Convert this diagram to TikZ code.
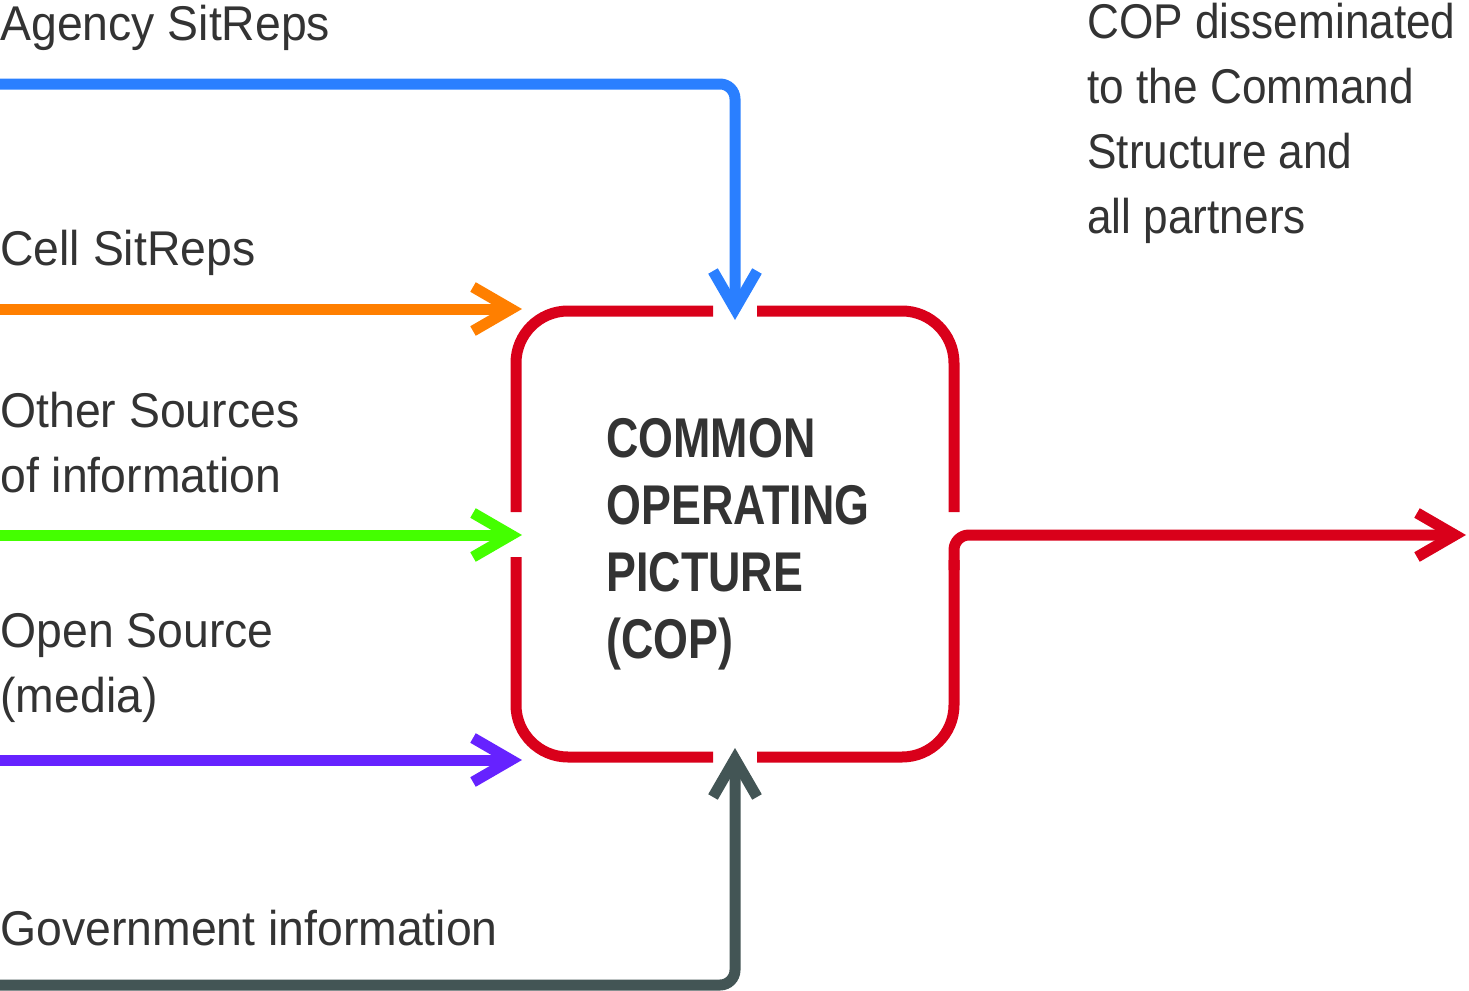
\documentclass[tikz,border=0pt]{standalone}
\usepackage{fontspec}
\setmainfont{Liberation Sans}
\newfontfamily\labelfont[FakeStretch=0.95]{Liberation Sans}
\newfontfamily\narrowfont[FakeStretch=0.905]{Liberation Sans}
\newfontfamily\copfont[FakeStretch=0.8]{Liberation Sans}
\usetikzlibrary{arrows.meta}
\definecolor{textgray}{HTML}{333333}
\definecolor{agencyblue}{HTML}{2A7FFF}
\definecolor{cellorange}{HTML}{FF7F00}
\definecolor{othergreen}{HTML}{44FF00}
\definecolor{openviolet}{HTML}{6622FF}
\definecolor{govgray}{HTML}{435555}
\definecolor{copred}{HTML}{D9001A}
\tikzset{
  lbl/.style={anchor=base west,inner sep=0pt,align=left,text=textgray,
    font=\labelfont\fontsize{24.4}{32.5}\selectfont},
  feed/.style={line width=5.5pt,-{Straight Barb[sharp,length=19pt,width=22pt]}},
  copline/.style={copred,line width=5.5pt,rounded corners=26pt},
}
\begin{document}
\begin{tikzpicture}[x=0.5pt,y=-0.5pt]
  \useasboundingbox (0,0) rectangle (1469,991);

  % labels (base = last line)
  \node[lbl] (agency) at (0,40) {Agency SitReps};
  \node[lbl] (cell) at (0,265) {Cell SitReps};
  \node[lbl] (other) at (0,492) {Other Sources\\of information};
  \node[lbl] (open) at (0,712) {Open Source\\(media)};
  \node[lbl] (gov) at (0,945) {Government information};
  \node[lbl,font=\narrowfont\fontsize{24.4}{32.5}\selectfont] (dissem) at (1087,233)
    {COP disseminated\\to the Command\\Structure and\\all partners};
  \node[lbl,font=\copfont\bfseries\fontsize{28}{33.5}\selectfont] (cop) at (606,658)
    {COMMON\\OPERATING\\PICTURE\\(COP)};

  % feed ends
  \coordinate (agency in) at (0,84);
  \coordinate (cell in) at (0,309);
  \coordinate (other in) at (0,535);
  \coordinate (open in) at (0,760);
  \coordinate (gov in) at (0,985);
  \coordinate (top gap) at (735,320);
  \coordinate (bottom gap) at (735,748);
  \coordinate (cell tip) at (522,309);
  \coordinate (other tip) at (522,535);
  \coordinate (open tip) at (522,760);
  \coordinate (out tip) at (1466,535);

  % the box
  \draw[copline] (757,311) -- (954,311) -- (954,512);
  \draw[copline] (713,311) -- (516,311) -- (516,512);
  \draw[copline] (516,557) -- (516,757) -- (713,757);
  \draw[copline] (757,757) -- (954,757) -- (954,560);
  \draw[copline,rounded corners=7.5pt,-{Straight Barb[sharp,length=19pt,width=22pt]}]
    (954,570) -- (954,535) -- (out tip);

  \draw[feed,agencyblue,rounded corners=7.5pt] (agency in) -| (top gap);
  \draw[feed,cellorange] (cell in) -- (cell tip);
  \draw[feed,othergreen] (other in) -- (other tip);
  \draw[feed,openviolet] (open in) -- (open tip);
  \draw[feed,govgray,rounded corners=7.5pt] (gov in) -| (bottom gap);
\end{tikzpicture}
\end{document}
